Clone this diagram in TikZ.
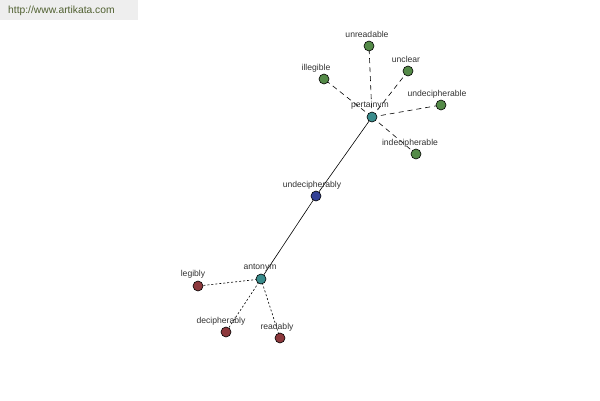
\documentclass[tikz,border=0pt]{standalone}
\usepackage{fontspec}
\setmainfont{Liberation Sans}
\begin{document}
\begin{tikzpicture}[x=1pt,y=-1pt,
  dot/.style={circle,draw=black,line width=0.6pt,minimum size=10pt,inner sep=0pt},
  gnode/.style={dot,fill={rgb,255:red,84;green,138;blue,72}},
  tnode/.style={dot,fill={rgb,255:red,58;green,140;blue,140}},
  bnode/.style={dot,fill={rgb,255:red,50;green,64;blue,150}},
  rnode/.style={dot,fill={rgb,255:red,140;green,56;blue,60}},
  lbl/.style={font=\fontsize{8.6}{10}\selectfont,text={rgb,255:red,50;green,50;blue,50},inner sep=0pt},
  solidedge/.style={draw=black,line width=0.6pt},
  dashedge/.style={draw=black,line width=0.6pt,dash pattern=on 5pt off 4pt},
  dotedge/.style={draw=black,line width=0.6pt,dash pattern=on 2pt off 2pt}]
\useasboundingbox (0,0) rectangle (600,400);
\fill[fill={rgb,255:red,238;green,238;blue,238}] (0,0) rectangle (138,20);
\node[anchor=west,inner sep=0pt,font=\fontsize{10.3}{12}\selectfont,text={rgb,255:red,80;green,96;blue,48}] (wm) at (8,11) {http://www.artikata.com};
% node centres
\coordinate (pP) at (372,117);
\coordinate (pUr) at (369,46);
\coordinate (pUc) at (408,71);
\coordinate (pIl) at (324,79);
\coordinate (pUd) at (441,105);
\coordinate (pId) at (416,154);
\coordinate (pUb) at (316,196);
\coordinate (pA) at (261,279);
\coordinate (pL) at (198,286);
\coordinate (pD) at (226,332);
\coordinate (pR) at (280,338);
% edges
\path[solidedge] (pP) -- (pUb);
\path[solidedge] (pUb) -- (pA);
\foreach \t in {pUr,pUc,pIl,pUd,pId} \path[dashedge] (pP) -- (\t);
\foreach \t in {pL,pD,pR} \path[dotedge] (pA) -- (\t);
% labels
\node[lbl] (lP) at (370,105) {pertainym};
\node[lbl] (lUr) at (367,34) {unreadable};
\node[lbl] (lUc) at (406,59) {unclear};
\node[lbl] (lIl) at (316,68) {illegible};
\node[lbl] (lUd) at (437,94) {undecipherable};
\node[lbl] (lId) at (410,143) {indecipherable};
\node[lbl] (lUb) at (312,185) {undecipherably};
\node[lbl] (lA) at (260,268) {antonym};
\node[lbl] (lL) at (193,274) {legibly};
\node[lbl] (lD) at (221,321) {decipherably};
\node[lbl] (lR) at (277,327) {readably};
% circles
\node[tnode] (P) at (pP) {};
\node[gnode] (Ur) at (pUr) {};
\node[gnode] (Uc) at (pUc) {};
\node[gnode] (Il) at (pIl) {};
\node[gnode] (Ud) at (pUd) {};
\node[gnode] (Id) at (pId) {};
\node[bnode] (Ub) at (pUb) {};
\node[tnode] (A) at (pA) {};
\node[rnode] (L) at (pL) {};
\node[rnode] (D) at (pD) {};
\node[rnode] (R) at (pR) {};
\end{tikzpicture}
\end{document}
